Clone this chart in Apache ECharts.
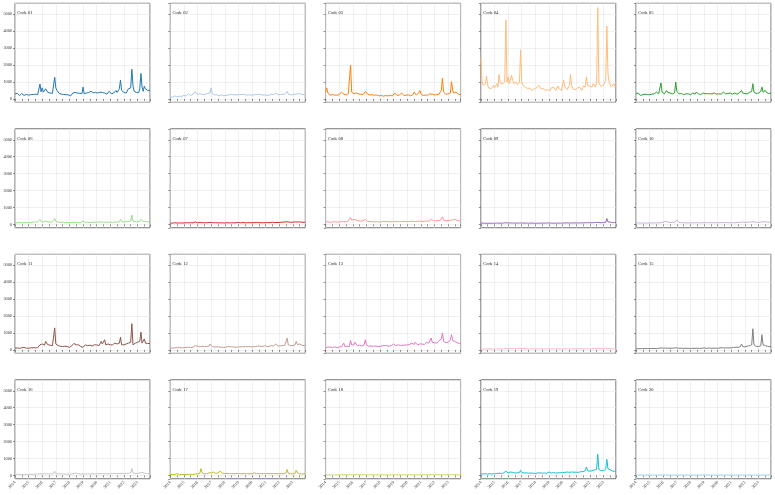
<!DOCTYPE html>
<html>
<head>
<meta charset="utf-8">
<script src="https://cdn.jsdelivr.net/npm/echarts@6/dist/echarts.min.js"></script>
<style>
  html, body { margin: 0; padding: 0; background: #fff; }
  #main { width: 775px; height: 495px; }
</style>
</head>
<body>
<div id="main"></div>
<script>
(function () {
var myChart = echarts.init(document.getElementById("main"));

// monthly values, Jan 2014 .. Dec 2023 (12 per line)
var startYear = 2014;
var yearTicks = [2014, 2015, 2016, 2017, 2018, 2019, 2020, 2021, 2022, 2023];
var codes = ["Code 01", "Code 02", "Code 03", "Code 04", "Code 05",
             "Code 06", "Code 07", "Code 08", "Code 09", "Code 10",
             "Code 11", "Code 12", "Code 13", "Code 14", "Code 15",
             "Code 16", "Code 17", "Code 18", "Code 19", "Code 20"];
var colors = ["#1f77b4", "#aec7e8", "#ff7f0e", "#ffbb78", "#2ca02c",
              "#98df8a", "#d62728", "#ff9896", "#9467bd", "#c5b0d5",
              "#8c564b", "#c49c94", "#e377c2", "#f7b6d2", "#7f7f7f",
              "#c7c7c7", "#bcbd22", "#dbdb8d", "#17becf", "#9edae5"];

var code01 = [
  300, 220, 330, 250, 200, 280, 320, 240, 210, 290, 260, 200,
  230, 300, 250, 220, 260, 240, 280, 300, 250, 330, 880, 420,
  650, 400, 450, 600, 520, 380, 450, 350, 300, 330, 400, 1280,
  650, 500, 420, 330, 300, 280, 320, 260, 300, 250, 280, 240,
  200, 180, 260, 350, 420, 380, 400, 350, 300, 330, 280, 320,
  700, 300, 380, 350, 420, 380, 330, 450, 400, 360, 420, 380,
  450, 350, 300, 400, 500, 380, 420, 350, 300, 280, 330, 450,
  380, 300, 250, 350, 420, 500, 380, 450, 600, 1120, 500, 400,
  380, 420, 350, 400, 600, 550, 650, 1750, 800, 450, 400, 380,
  420, 380, 600, 1500, 700, 450, 750, 600, 550, 500, 480, 500];
var code02 = [
  120, 150, 100, 130, 180, 150, 120, 140, 160, 130, 150, 170,
  200, 250, 180, 220, 300, 250, 200, 230, 280, 250, 450, 300,
  250, 280, 350, 300, 260, 240, 300, 280, 250, 320, 400, 350,
  650, 300, 250, 230, 200, 250, 220, 180, 200, 240, 210, 190,
  170, 200, 250, 230, 280, 260, 220, 250, 200, 230, 280, 250,
  350, 250, 220, 260, 230, 280, 250, 220, 260, 240, 200, 220,
  260, 240, 200, 250, 300, 260, 230, 280, 250, 220, 200, 240,
  230, 200, 180, 220, 250, 280, 240, 260, 300, 350, 280, 250,
  230, 260, 240, 280, 300, 280, 320, 450, 300, 260, 240, 230,
  250, 240, 280, 380, 300, 260, 320, 280, 250, 240, 260, 250];
var code03 = [
  430, 650, 350, 250, 220, 280, 250, 200, 230, 260, 220, 240,
  250, 220, 400, 350, 280, 250, 230, 260, 300, 250, 2000, 400,
  500, 300, 250, 350, 450, 300, 250, 280, 230, 250, 300, 450,
  350, 280, 250, 230, 300, 250, 280, 220, 250, 230, 200, 180,
  150, 200, 180, 160, 220, 200, 230, 180, 160, 200, 220, 180,
  200, 350, 250, 200, 300, 230, 200, 350, 250, 200, 180, 220,
  300, 250, 200, 180, 220, 250, 400, 300, 230, 200, 350, 500,
  300, 220, 200, 180, 230, 250, 220, 200, 300, 400, 280, 250,
  230, 260, 250, 300, 280, 320, 500, 1230, 400, 300, 280, 250,
  300, 280, 350, 1020, 500, 350, 300, 400, 350, 280, 260, 250];
var code04 = [
  2450, 1000, 800, 700, 900, 1350, 800, 650, 750, 600, 700, 800,
  650, 750, 900, 700, 1450, 950, 850, 900, 800, 1000, 4650, 1000,
  1300, 900, 1000, 1400, 1100, 900, 950, 1000, 850, 900, 1000, 2900,
  1000, 800, 900, 700, 650, 600, 550, 650, 600, 500, 550, 600,
  500, 650, 600, 800, 750, 600, 550, 600, 650, 500, 450, 550,
  600, 500, 650, 550, 700, 600, 500, 550, 750, 600, 550, 500,
  900, 1100, 700, 600, 550, 650, 800, 1450, 800, 600, 650, 550,
  500, 650, 550, 700, 600, 500, 750, 800, 700, 1300, 800, 700,
  750, 800, 700, 900, 850, 700, 1000, 5400, 900, 800, 750, 700,
  800, 900, 1100, 4300, 1500, 1000, 1100, 700, 800, 900, 750, 800];
var code05 = [
  300, 250, 350, 280, 200, 300, 250, 220, 280, 300, 250, 230,
  250, 300, 280, 350, 300, 250, 400, 350, 300, 280, 950, 400,
  350, 300, 400, 500, 380, 300, 350, 280, 300, 400, 350, 1000,
  450, 350, 300, 280, 320, 300, 250, 280, 300, 350, 300, 280,
  250, 300, 350, 300, 280, 400, 320, 300, 280, 250, 300, 350,
  450, 300, 280, 320, 350, 300, 280, 300, 400, 350, 300, 280,
  320, 300, 350, 280, 300, 400, 350, 300, 280, 320, 300, 350,
  300, 280, 320, 350, 300, 280, 300, 350, 400, 500, 350, 300,
  320, 350, 300, 400, 380, 350, 450, 900, 400, 350, 320, 300,
  350, 400, 450, 700, 400, 350, 500, 380, 350, 320, 300, 350];
var code06 = [
  100, 120, 90, 110, 130, 100, 90, 120, 110, 100, 130, 120,
  110, 140, 120, 150, 130, 120, 140, 130, 150, 140, 300, 160,
  150, 140, 180, 200, 160, 150, 140, 130, 150, 160, 180, 350,
  180, 150, 130, 140, 120, 130, 140, 120, 110, 130, 120, 110,
  100, 120, 130, 140, 120, 110, 130, 120, 110, 100, 120, 130,
  200, 130, 120, 140, 130, 120, 110, 130, 120, 140, 130, 120,
  130, 120, 140, 130, 150, 140, 130, 120, 140, 130, 120, 140,
  130, 120, 110, 130, 140, 150, 130, 140, 160, 300, 180, 150,
  140, 150, 160, 150, 170, 160, 200, 550, 200, 160, 150, 140,
  150, 160, 180, 300, 200, 170, 250, 180, 160, 150, 140, 150];
var code07 = [
  80, 90, 70, 85, 100, 90, 80, 75, 90, 85, 80, 90,
  85, 90, 100, 95, 90, 85, 100, 95, 90, 100, 150, 110,
  100, 95, 110, 120, 100, 95, 100, 90, 95, 100, 110, 150,
  110, 100, 95, 90, 100, 95, 90, 85, 95, 100, 90, 85,
  80, 90, 100, 95, 90, 85, 100, 95, 90, 85, 95, 100,
  120, 100, 95, 100, 110, 100, 95, 90, 100, 110, 100, 95,
  100, 110, 100, 95, 120, 110, 100, 95, 100, 110, 100, 105,
  100, 95, 110, 120, 100, 110, 130, 120, 110, 150, 120, 110,
  110, 120, 130, 120, 140, 130, 150, 200, 150, 130, 120, 110,
  130, 120, 150, 180, 140, 130, 150, 140, 130, 120, 125, 130];
var code08 = [
  150, 130, 160, 140, 120, 150, 140, 130, 160, 150, 140, 130,
  140, 160, 180, 150, 170, 160, 150, 180, 200, 170, 400, 250,
  250, 300, 200, 250, 220, 200, 180, 200, 190, 210, 230, 300,
  200, 180, 170, 160, 150, 170, 160, 150, 140, 160, 150, 140,
  130, 150, 160, 180, 170, 160, 150, 170, 160, 150, 140, 160,
  200, 160, 150, 170, 180, 160, 150, 170, 160, 180, 170, 160,
  180, 170, 160, 180, 200, 190, 180, 170, 160, 180, 190, 200,
  180, 170, 160, 180, 190, 200, 180, 190, 220, 300, 230, 200,
  200, 210, 220, 230, 220, 240, 280, 450, 250, 220, 210, 200,
  220, 230, 250, 350, 260, 240, 300, 250, 230, 220, 210, 220];
var code09 = [
  70, 60, 80, 70, 65, 75, 70, 60, 70, 80, 70, 65,
  70, 75, 80, 70, 75, 80, 70, 75, 80, 70, 100, 80,
  80, 75, 85, 90, 80, 75, 80, 70, 75, 80, 85, 100,
  85, 80, 75, 70, 80, 75, 70, 75, 80, 70, 75, 70,
  65, 70, 75, 80, 70, 75, 80, 70, 75, 70, 80, 75,
  90, 75, 70, 80, 75, 80, 70, 75, 80, 85, 75, 80,
  80, 75, 85, 80, 90, 85, 80, 75, 80, 85, 90, 85,
  90, 85, 80, 90, 95, 90, 85, 90, 100, 130, 100, 95,
  100, 95, 90, 100, 110, 100, 120, 180, 120, 100, 95, 100,
  110, 100, 120, 350, 150, 120, 130, 120, 110, 100, 110, 115];
var code10 = [
  80, 70, 90, 80, 70, 80, 90, 80, 75, 85, 80, 75,
  80, 85, 90, 80, 85, 90, 95, 100, 90, 85, 100, 150,
  130, 120, 180, 200, 150, 120, 110, 130, 120, 110, 130, 150,
  250, 150, 120, 110, 100, 110, 100, 95, 90, 100, 95, 90,
  85, 90, 95, 100, 95, 90, 100, 95, 90, 85, 95, 100,
  110, 100, 95, 100, 110, 100, 95, 90, 100, 110, 100, 95,
  100, 110, 100, 95, 110, 100, 95, 100, 110, 100, 95, 100,
  100, 95, 100, 110, 100, 110, 120, 110, 130, 200, 140, 120,
  110, 120, 130, 120, 130, 120, 150, 250, 160, 130, 120, 110,
  120, 130, 140, 180, 150, 130, 160, 150, 130, 120, 125, 130];
var code11 = [
  100, 110, 120, 100, 90, 110, 130, 120, 150, 120, 100, 110,
  100, 90, 120, 100, 130, 110, 120, 150, 130, 200, 300, 250,
  350, 300, 280, 500, 400, 300, 250, 280, 300, 250, 350, 1300,
  350, 300, 250, 280, 220, 250, 200, 180, 220, 150, 200, 180,
  150, 200, 250, 300, 380, 350, 300, 320, 300, 250, 200, 280,
  150, 250, 300, 280, 250, 300, 280, 250, 230, 280, 300, 250,
  300, 280, 250, 300, 500, 350, 300, 600, 300, 280, 350, 400,
  300, 350, 300, 280, 400, 450, 350, 300, 400, 750, 300, 250,
  300, 280, 350, 300, 400, 350, 450, 1550, 300, 350, 400, 380,
  450, 400, 500, 1050, 400, 350, 650, 400, 350, 380, 400, 380];
var code12 = [
  120, 130, 110, 140, 120, 100, 130, 120, 140, 130, 120, 110,
  130, 140, 150, 130, 160, 150, 140, 170, 160, 180, 250, 200,
  220, 200, 180, 250, 220, 200, 190, 180, 200, 210, 220, 350,
  250, 200, 180, 170, 190, 180, 160, 170, 180, 160, 170, 150,
  140, 160, 180, 200, 190, 180, 170, 190, 180, 160, 150, 170,
  200, 180, 170, 190, 200, 180, 170, 190, 180, 200, 190, 180,
  200, 190, 180, 200, 250, 220, 200, 230, 210, 200, 220, 250,
  220, 200, 190, 210, 230, 250, 220, 240, 260, 350, 250, 220,
  230, 240, 250, 260, 280, 270, 300, 700, 300, 260, 250, 240,
  260, 280, 300, 500, 320, 280, 350, 300, 280, 260, 250, 270];
var code13 = [
  150, 130, 160, 140, 170, 150, 140, 160, 180, 150, 140, 160,
  170, 200, 180, 250, 400, 200, 180, 220, 250, 200, 550, 300,
  250, 300, 450, 350, 250, 220, 280, 250, 230, 260, 300, 600,
  300, 250, 220, 200, 230, 250, 220, 200, 230, 250, 200, 220,
  200, 230, 250, 280, 260, 240, 250, 230, 220, 250, 260, 240,
  350, 260, 250, 280, 300, 280, 260, 250, 280, 300, 280, 260,
  300, 280, 320, 300, 400, 350, 320, 450, 350, 300, 320, 350,
  330, 350, 300, 320, 400, 450, 380, 400, 450, 700, 450, 400,
  420, 450, 400, 500, 550, 600, 650, 1000, 500, 450, 430, 400,
  450, 500, 600, 900, 550, 450, 500, 450, 420, 400, 380, 400];
var code14 = [
  50, 60, 55, 50, 45, 55, 60, 50, 55, 60, 55, 50,
  55, 60, 65, 60, 55, 60, 65, 70, 60, 65, 100, 70,
  70, 65, 80, 90, 75, 70, 65, 70, 75, 70, 80, 150,
  90, 75, 70, 65, 70, 65, 60, 65, 70, 60, 65, 60,
  55, 60, 65, 70, 65, 60, 65, 70, 60, 55, 60, 65,
  70, 65, 60, 65, 70, 65, 60, 65, 70, 65, 60, 65,
  65, 70, 65, 60, 70, 65, 60, 65, 70, 65, 60, 65,
  60, 65, 70, 65, 70, 75, 70, 65, 70, 80, 70, 65,
  65, 70, 75, 70, 75, 70, 80, 100, 80, 70, 65, 70,
  70, 75, 80, 90, 75, 70, 80, 75, 70, 65, 70, 70];
var code15 = [
  80, 90, 70, 80, 75, 85, 80, 70, 80, 90, 80, 75,
  80, 85, 90, 80, 85, 90, 85, 80, 90, 85, 120, 100,
  100, 95, 110, 120, 100, 95, 100, 90, 100, 110, 120, 200,
  120, 100, 95, 90, 100, 95, 90, 85, 95, 100, 90, 85,
  80, 90, 100, 95, 90, 85, 100, 95, 90, 85, 95, 100,
  120, 100, 95, 100, 110, 100, 95, 90, 100, 110, 100, 95,
  100, 110, 120, 110, 130, 120, 110, 130, 120, 110, 120, 130,
  120, 130, 140, 150, 160, 180, 150, 160, 200, 350, 200, 180,
  180, 200, 220, 200, 250, 230, 300, 1250, 300, 220, 200, 190,
  200, 220, 250, 900, 300, 220, 250, 230, 210, 200, 190, 200];
var code16 = [
  60, 50, 70, 60, 55, 65, 60, 50, 60, 70, 60, 55,
  60, 65, 70, 60, 65, 70, 80, 90, 80, 70, 100, 90,
  90, 80, 100, 110, 90, 80, 90, 80, 85, 90, 100, 250,
  120, 100, 90, 85, 90, 80, 75, 80, 90, 80, 75, 70,
  65, 75, 80, 90, 120, 150, 130, 100, 90, 80, 75, 85,
  90, 85, 80, 90, 95, 85, 80, 90, 95, 100, 90, 85,
  90, 95, 100, 90, 110, 100, 95, 90, 100, 105, 100, 95,
  90, 95, 100, 110, 120, 150, 110, 100, 110, 180, 120, 100,
  100, 110, 120, 110, 130, 120, 150, 400, 150, 120, 110, 100,
  110, 120, 150, 250, 180, 140, 130, 120, 110, 100, 105, 110];
var code17 = [
  50, 60, 55, 50, 60, 55, 100, 60, 55, 60, 60, 55,
  50, 55, 60, 50, 55, 60, 65, 60, 55, 70, 80, 70,
  90, 100, 120, 400, 150, 100, 90, 80, 100, 120, 150, 130,
  150, 250, 200, 130, 120, 130, 150, 200, 250, 150, 130, 120,
  110, 100, 120, 110, 100, 120, 110, 100, 95, 100, 110, 100,
  110, 100, 95, 100, 110, 105, 95, 100, 110, 100, 95, 90,
  100, 200, 150, 120, 110, 100, 105, 110, 100, 95, 100, 110,
  100, 105, 110, 100, 95, 100, 110, 120, 110, 100, 95, 100,
  100, 110, 120, 110, 100, 120, 150, 350, 130, 110, 100, 95,
  100, 110, 130, 300, 150, 110, 100, 95, 90, 85, 90, 95];
var code18 = [
  40, 45, 40, 35, 40, 45, 40, 35, 40, 45, 40, 40,
  45, 40, 45, 50, 45, 40, 45, 50, 45, 40, 55, 45,
  50, 45, 50, 55, 50, 45, 50, 45, 50, 45, 50, 60,
  50, 45, 40, 45, 50, 45, 40, 45, 40, 45, 40, 40,
  40, 45, 50, 45, 40, 45, 50, 45, 40, 45, 40, 45,
  50, 45, 40, 45, 50, 45, 40, 45, 50, 45, 40, 45,
  45, 50, 45, 40, 50, 45, 40, 45, 50, 45, 40, 45,
  45, 40, 45, 50, 45, 50, 45, 50, 55, 60, 50, 45,
  50, 45, 50, 55, 50, 55, 60, 70, 55, 50, 45, 50,
  50, 55, 60, 65, 55, 50, 55, 50, 45, 50, 45, 50];
var code19 = [
  80, 100, 90, 80, 100, 90, 80, 90, 100, 90, 80, 90,
  100, 120, 110, 100, 130, 120, 110, 130, 150, 140, 250, 150,
  150, 140, 200, 250, 180, 150, 140, 130, 150, 160, 180, 300,
  180, 150, 140, 130, 150, 140, 130, 120, 140, 150, 130, 120,
  110, 130, 150, 160, 150, 140, 130, 150, 140, 130, 120, 140,
  200, 150, 140, 160, 170, 150, 140, 160, 150, 170, 160, 150,
  170, 160, 180, 170, 200, 190, 180, 250, 200, 180, 190, 200,
  190, 200, 180, 200, 220, 250, 220, 230, 280, 500, 280, 250,
  250, 260, 280, 300, 320, 300, 350, 1250, 350, 300, 280, 260,
  280, 300, 350, 950, 400, 300, 320, 280, 260, 250, 240, 250];
var code20 = [
  20, 20, 20, 20, 20, 20, 20, 20, 20, 20, 20, 20,
  20, 20, 20, 20, 20, 20, 20, 20, 20, 20, 20, 20,
  20, 20, 20, 20, 20, 20, 20, 20, 20, 20, 20, 20,
  20, 20, 20, 20, 20, 20, 20, 20, 20, 20, 20, 20,
  20, 20, 20, 20, 20, 20, 20, 20, 20, 20, 20, 20,
  20, 20, 20, 20, 20, 20, 20, 20, 20, 20, 20, 20,
  20, 20, 20, 20, 20, 20, 20, 20, 20, 20, 20, 20,
  20, 20, 20, 20, 20, 20, 20, 20, 20, 20, 20, 20,
  20, 20, 20, 20, 20, 20, 20, 20, 20, 20, 20, 20,
  20, 20, 20, 20, 20, 20, 20, 20, 20, 20, 20, 20];

var allSeries = [code01, code02, code03, code04, code05, code06, code07, code08, code09, code10,
                 code11, code12, code13, code14, code15, code16, code17, code18, code19, code20];

var font = "'Liberation Serif', 'DejaVu Serif', serif";
var lefts = [15, 170.3, 325.6, 480.9, 636];
var tops = [3.3, 128.8, 254.3, 379.8];
var w = 135, h = 99;

var grids = [], xAxes = [], yAxes = [], series = [], titles = [];

for (var k = 0; k < allSeries.length; k++) {
    var row = Math.floor(k / 5), col = k % 5;
    grids.push({
        left: lefts[col], top: tops[row], width: w, height: h,
        containLabel: false, outerBoundsMode: 'none',
        show: true, backgroundColor: '#fff',
        borderColor: '#444', borderWidth: 0.8
    });
    xAxes.push({
        type: 'value', gridIndex: k,
        min: startYear, max: startYear + 119 / 12, interval: 1,
        axisLine: { show: false },
        axisTick: { show: true, length: 2, lineStyle: { color: '#444', width: 0.6 } },
        minorTick: { show: true, splitNumber: 2, length: 2, lineStyle: { color: '#444', width: 0.6 } },
        splitLine: { show: true, lineStyle: { color: '#e6e6e6', width: 0.6 } },
        axisLabel: {
            show: row === 3, rotate: 45, fontSize: 4.3, color: '#333', margin: 3,
            fontFamily: font, hideOverlap: false,
            formatter: function (v) { return yearTicks.indexOf(v) >= 0 ? String(v) : ''; }
        }
    });
    yAxes.push({
        type: 'value', gridIndex: k,
        min: -200, max: 5650, splitNumber: 5,
        axisLine: { show: false },
        axisTick: { show: true, length: 2, lineStyle: { color: '#444', width: 0.6 } },
        splitLine: { show: true, lineStyle: { color: '#e6e6e6', width: 0.6 } },
        axisLabel: {
            show: col === 0, fontSize: 4.3, color: '#333', margin: 3,
            fontFamily: font, showMinLabel: false, showMaxLabel: false,
            formatter: function (v) { return String(v); }
        }
    });
    var pts = [];
    for (var i = 0; i < allSeries[k].length; i++) {
        pts.push([startYear + i / 12, allSeries[k][i]]);
    }
    series.push({
        name: codes[k], type: 'line', xAxisIndex: k, yAxisIndex: k,
        data: pts, showSymbol: false, symbol: 'none', animation: false,
        lineStyle: { color: colors[k], width: 1 }
    });
    titles.push({
        text: codes[k], left: lefts[col] + 2.3, top: tops[row] + 7.5, padding: 0,
        textStyle: { fontSize: 4.5, fontWeight: 'normal', color: '#222', fontFamily: font }
    });
}

var option = {
    backgroundColor: '#fff',
    animation: false,
    title: titles,
    grid: grids,
    xAxis: xAxes,
    yAxis: yAxes,
    series: series
};

myChart.setOption(option);
window.addEventListener("resize", function () {
    myChart.resize();
});
})();
</script>
</body>
</html>
